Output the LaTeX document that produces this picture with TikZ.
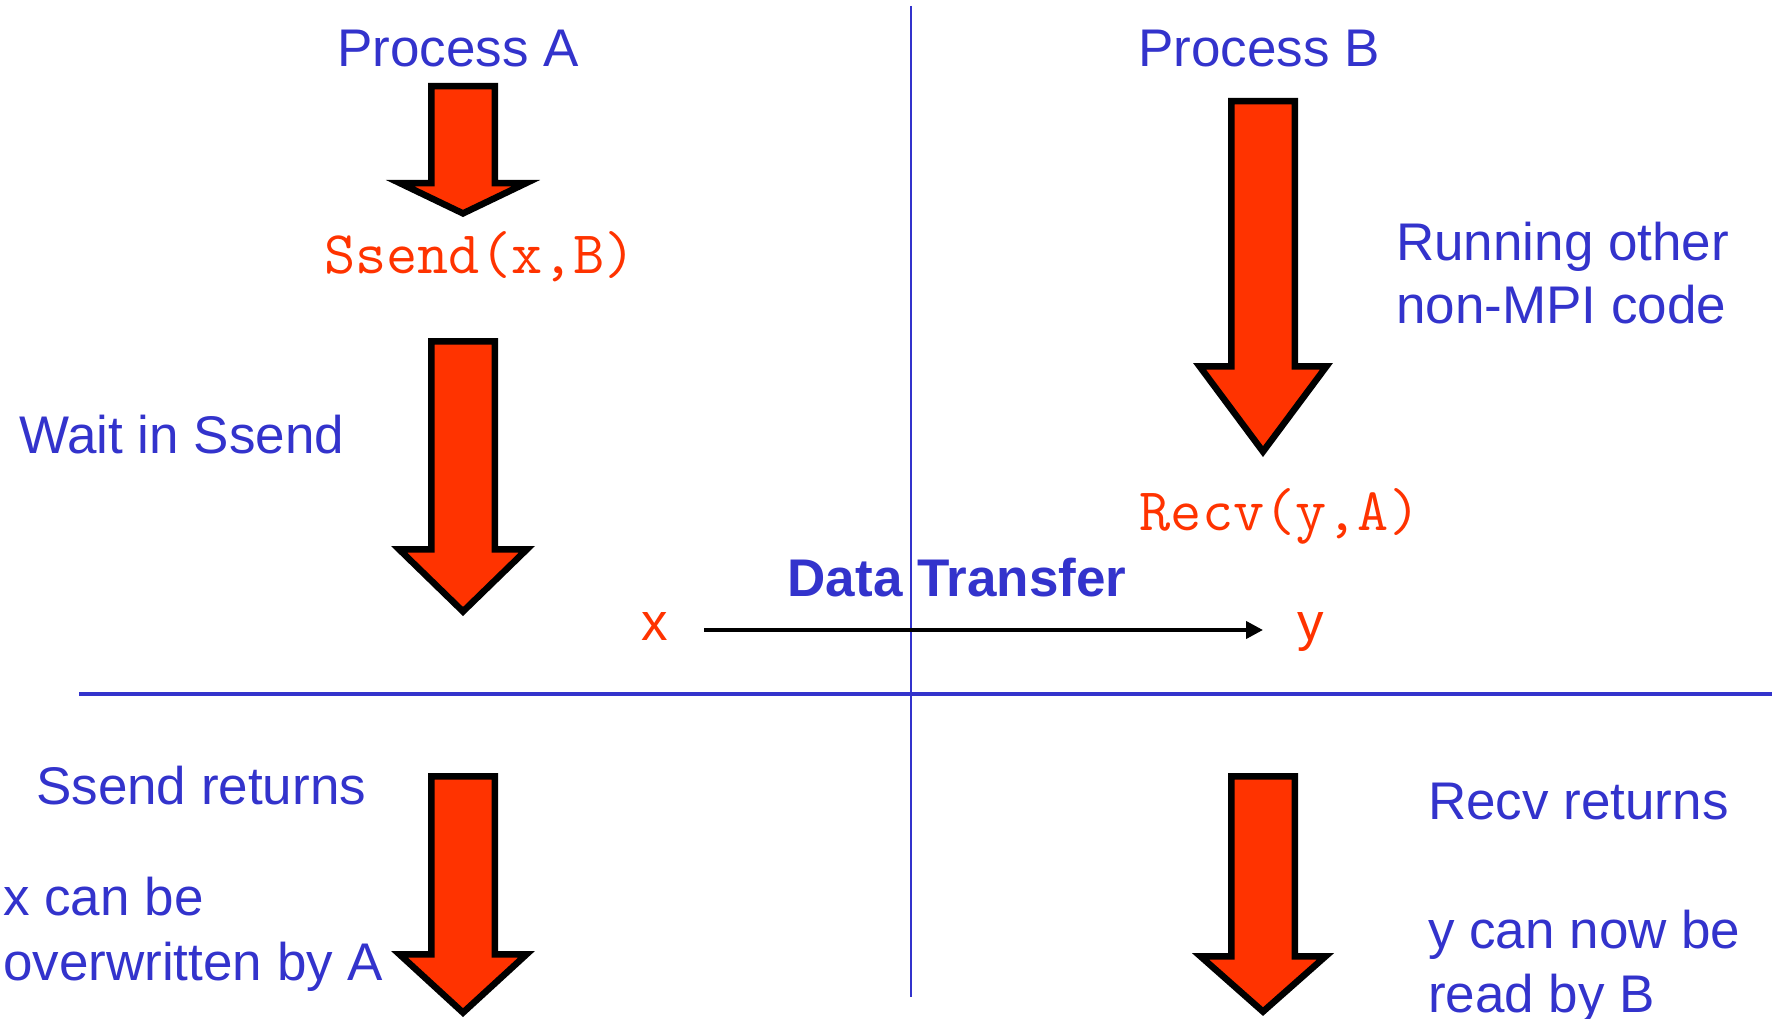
\documentclass[tikz,border=0pt]{standalone}
\usepackage{fontspec}
\setmainfont{Liberation Sans}
\usetikzlibrary{arrows.meta}
\definecolor{myblue}{HTML}{3333CC}
\definecolor{myred}{HTML}{FF3300}
\newcommand{\blkarrow}[6]{%
  \draw[blockarrow] (#1-#5,#2) -- (#1+#5,#2) -- (#1+#5,#3) -- (#1+#6,#3)
    -- (#1,#4) -- (#1-#6,#3) -- (#1-#5,#3) -- cycle;}
\begin{document}
\begin{tikzpicture}[x=1pt,y=-1pt,
  lbl/.style={text=myblue, font=\fontsize{53}{62}\selectfont, inner sep=0pt},
  boldlbl/.style={lbl, font=\fontsize{53}{62}\selectfont\bfseries},
  code/.style={text=myred, font=\fontsize{60.5}{66}\selectfont\ttfamily, inner sep=0pt},
  var/.style={text=myred, font=\fontsize{53}{62}\selectfont, inner sep=0pt},
  blockarrow/.style={draw=black, line width=6.5pt, fill=myred, line join=miter},
  divider/.style={draw=myblue},
  datarrow/.style={draw=black, line width=4pt, -{Triangle[length=17pt,width=17pt]}}]
\useasboundingbox (0,0) rectangle (1772,1019);

% dividers
\coordinate (vtop) at (911,6);
\coordinate (vbot) at (911,997);
\coordinate (hl) at (79,694);
\coordinate (hr) at (1772,694);
\draw[divider, line width=2.5pt] (vtop) -- (vbot);
\draw[divider, line width=4pt] (hl) -- (hr);

% headings
\node[lbl, anchor=base] (procA) at (458,67) {Process A};
\node[lbl, anchor=base] (procB) at (1259,67) {Process B};

% code labels
\node[code, anchor=base] (ssend) at (480,273) {Ssend(x,B)};
\node[code, anchor=base] (recv) at (1280,530) {Recv(y,A)};

% side texts
\node[lbl, anchor=base west] (run1) at (1396,260) {Running other};
\node[lbl, anchor=base west] (run2) at (1396,323) {non-MPI code};
\node[lbl, anchor=base west] (wait) at (19,453) {Wait in Ssend};
\node[lbl, anchor=base west] (sret) at (36,804) {Ssend returns};
\node[lbl, anchor=base west] (xcan1) at (3,915) {x can be};
\node[lbl, anchor=base west] (xcan2) at (3,980) {overwritten by A};
\node[lbl, anchor=base west] (rret) at (1428,819) {Recv returns};
\node[lbl, anchor=base west] (ycan1) at (1428,948) {y can now be};
\node[lbl, anchor=base west] (ycan2) at (1428,1012) {read by B};

% data transfer
\node[boldlbl, anchor=base] (dt) at (957,596) {Data Transfer};
\node[var, anchor=base] (xv) at (655,640) {x};
\node[var, anchor=base] (yv) at (1311,640) {y};
\coordinate (dstart) at (704,630);
\coordinate (dend) at (1263,630);
\draw[datarrow] (dstart) -- (dend);

% block arrows: cx, top, wing, tip, shaft half, head half (centre line)
\blkarrow{463}{86.25}{183.25}{213.4}{31.75}{62.8}
\blkarrow{463}{341.25}{549.25}{611.5}{31.75}{64}
\blkarrow{463}{776.25}{954.25}{1012.6}{31.75}{63.6}
\blkarrow{1263}{101.25}{366.25}{451.6}{31.75}{63.5}
\blkarrow{1263}{776.25}{956.25}{1011.6}{31.75}{62.6}
\end{tikzpicture}
\end{document}
